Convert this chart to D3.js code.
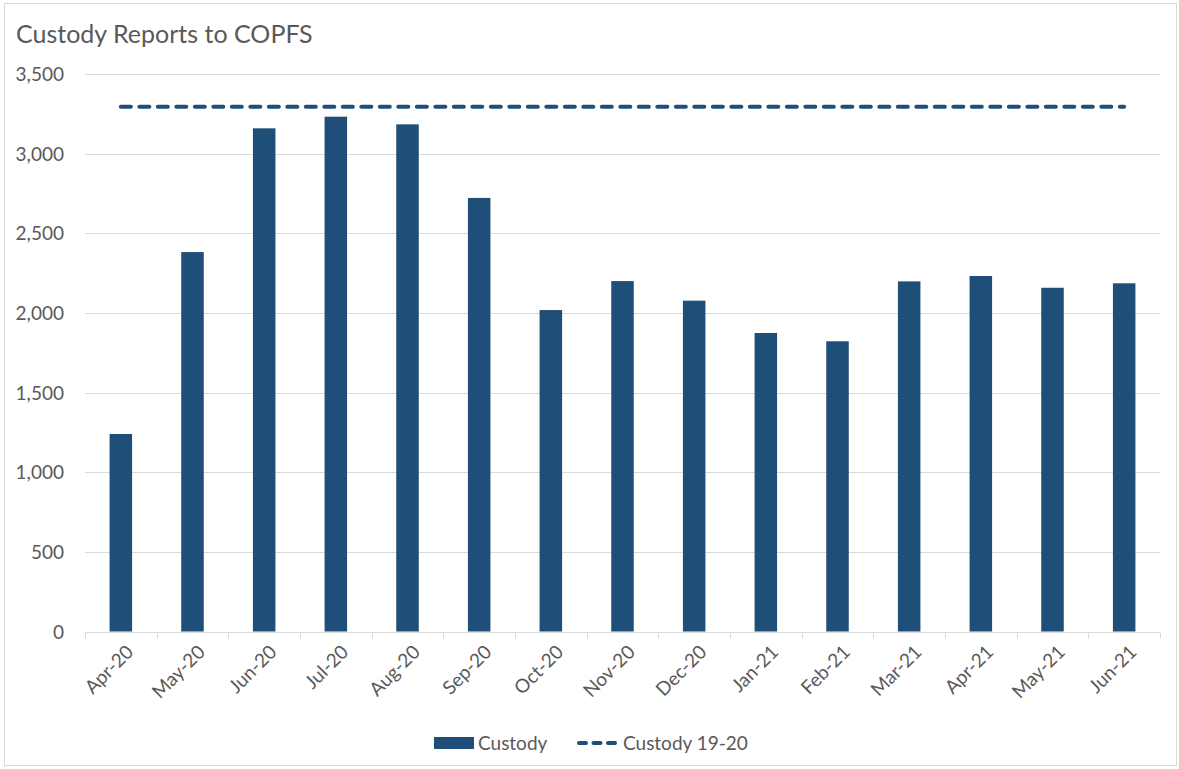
<!DOCTYPE html>
<html>
<head>
<meta charset="utf-8">
<script src="https://cdn.jsdelivr.net/npm/d3@7"></script>
<style>
  body { margin: 0; background: #fff; }
  text { font-family: Lato, "Open Sans", sans-serif; fill: #595959; }
</style>
</head>
<body>
<div id="chart"></div>
<script>
// data
var months = ["Apr-20", "May-20", "Jun-20", "Jul-20", "Aug-20", "Sep-20", "Oct-20", "Nov-20",
              "Dec-20", "Jan-21", "Feb-21", "Mar-21", "Apr-21", "May-21", "Jun-21"];
var custody = [1240, 2382, 3159, 3232, 3184, 2722, 2018, 2200, 2077, 1874, 1822, 2198, 2232, 2158, 2186];
var custodyPrev = [3294, 3294, 3294, 3294, 3294, 3294, 3294, 3294, 3294, 3294, 3294, 3294, 3294, 3294, 3294];
var yTicks = [0, 500, 1000, 1500, 2000, 2500, 3000, 3500];

var width = 1179, height = 769;
var margin = {top: 74, right: 19, bottom: 138, left: 85};
var color = "#1f4e79";

var svg = d3.select("#chart").append("svg")
    .attr("width", width)
    .attr("height", height);

// outer chart border
svg.append("rect")
    .attr("x", 4.5).attr("y", 3.5)
    .attr("width", 1172).attr("height", 762)
    .attr("fill", "none")
    .attr("stroke", "#d9d9d9");

svg.append("text")
    .attr("x", 16).attr("y", 43)
    .style("font-size", "25px")
    .text("Custody Reports to COPFS");

var x = d3.scaleBand()
    .domain(months)
    .range([margin.left, width - margin.right])
    .paddingInner(0.686)
    .paddingOuter(0.343);

var xb = d3.scaleBand()   // category slots for ticks
    .domain(months)
    .range([margin.left, width - margin.right]);

var y = d3.scaleLinear()
    .domain([0, 3500])
    .range([height - margin.bottom + 0.5, margin.top]);

// gridlines
svg.append("g")
  .selectAll("line")
    .data(yTicks.slice(1))
  .enter().append("line")
    .attr("x1", margin.left)
    .attr("x2", width - margin.right)
    .attr("y1", function(d) { return Math.round(y(d)) + 0.5; })
    .attr("y2", function(d) { return Math.round(y(d)) + 0.5; })
    .attr("stroke", "#d9d9d9")
    .attr("stroke-width", 1);

// y labels
svg.append("g")
  .selectAll("text")
    .data(yTicks)
  .enter().append("text")
    .attr("x", 64)
    .attr("y", function(d) { return y(d) + 7; })
    .attr("text-anchor", "end")
    .style("font-size", "19px")
    .text(d3.format(","));

// bars
svg.append("g")
  .selectAll("rect")
    .data(custody)
  .enter().append("rect")
    .attr("x", function(d, i) { return x(months[i]); })
    .attr("width", x.bandwidth())
    .attr("y", function(d) { return y(d); })
    .attr("height", function(d) { return y(0) - y(d); })
    .attr("fill", color);

// x axis line + ticks
var axisY = Math.round(y(0)) + 0.5;
svg.append("line")
    .attr("x1", margin.left).attr("x2", width - margin.right)
    .attr("y1", axisY).attr("y2", axisY)
    .attr("stroke", "#d9d9d9");
svg.append("g")
  .selectAll("line")
    .data(months.concat(["end"]))
  .enter().append("line")
    .attr("x1", function(d, i) { return Math.round(margin.left + i * xb.step()) + 0.5; })
    .attr("x2", function(d, i) { return Math.round(margin.left + i * xb.step()) + 0.5; })
    .attr("y1", axisY).attr("y2", axisY + 6)
    .attr("stroke", "#d9d9d9");

// x labels
svg.append("g")
  .selectAll("text")
    .data(months)
  .enter().append("text")
    .attr("transform", function(d) {
      var cx = xb(d) + xb.bandwidth() / 2 + 9;
      return "translate(" + cx + "," + (axisY + 16) + ") rotate(-45)";
    })
    .attr("text-anchor", "end")
    .attr("dy", "0.35em")
    .style("font-size", "19px")
    .text(function(d) { return d; });

// dashed reference line
var line = d3.line()
    .x(function(d, i) { return xb(months[i]) + xb.bandwidth() / 2; })
    .y(function(d) { return y(d); });

svg.append("path")
    .datum(custodyPrev)
    .attr("d", line)
    .attr("fill", "none")
    .attr("stroke", color)
    .attr("stroke-width", 4)
    .attr("stroke-linecap", "round")
    .attr("stroke-dasharray", "10,8.5");

// legend
var legend = svg.append("g");
legend.append("rect")
    .attr("x", 434).attr("y", 737)
    .attr("width", 40).attr("height", 12)
    .attr("fill", color);
legend.append("text")
    .attr("x", 478).attr("y", 750)
    .style("font-size", "19px")
    .text("Custody");
legend.append("line")
    .attr("x1", 579).attr("x2", 619)
    .attr("y1", 743).attr("y2", 743)
    .attr("stroke", color)
    .attr("stroke-width", 4)
    .attr("stroke-linecap", "round")
    .attr("stroke-dasharray", "7,7.5");
legend.append("text")
    .attr("x", 623).attr("y", 750)
    .style("font-size", "19px")
    .text("Custody 19-20");
</script>
</body>
</html>
